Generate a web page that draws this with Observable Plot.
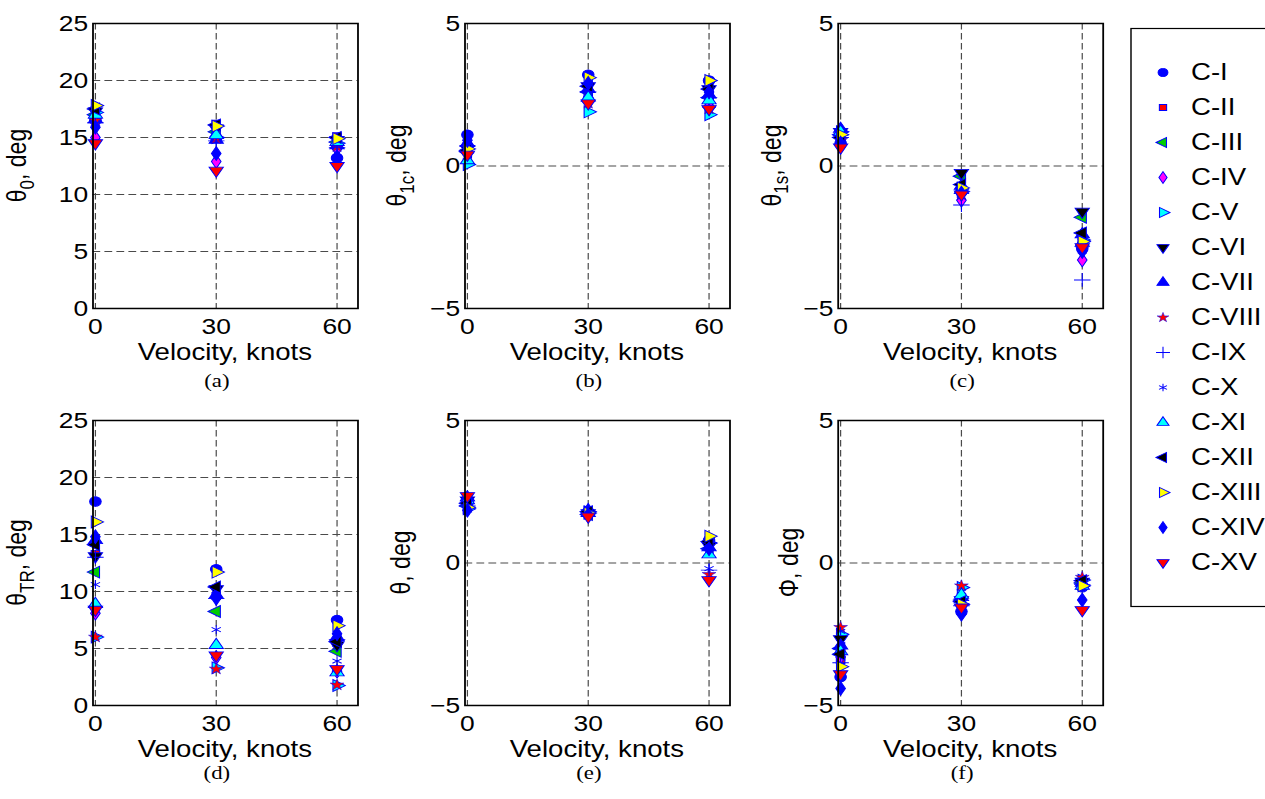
<!DOCTYPE html>
<html><head><meta charset="utf-8">
<script src="https://cdn.jsdelivr.net/npm/d3@7"></script>
<script src="https://cdn.jsdelivr.net/npm/@observablehq/plot@0.6"></script>
<style>
html,body{margin:0;padding:0;background:#fff;overflow:hidden;width:1265px;height:799px}
#fig{position:absolute;left:0;top:0;width:1054px;height:799px;transform:scaleX(1.2);transform-origin:0 0;}
#fig > svg{position:absolute;overflow:visible}
</style></head><body><div id="fig"></div><script>
// ---------- data ----------
const velocity = [0, 30, 60];
const cases = ["C-I","C-II","C-III","C-IV","C-V","C-VI","C-VII","C-VIII","C-IX","C-X","C-XI","C-XII","C-XIII","C-XIV","C-XV"];
// each row: one case, values at 0, 30, 60 knots
const theta0 = [
  [16.5, 15.0, 13.2],[16.8, 16.2, 15.1],[17.0, 15.5, 14.6],[15.0, 12.9, 14.0],[17.2, 15.0, 14.5],
  [17.3, 15.8, 14.8],[16.6, 14.8, 14.3],[16.5, 14.9, 14.2],[16.3, 14.7, 14.1],[16.2, 15.0, 14.3],
  [17.0, 15.2, 14.6],[17.5, 16.1, 15.0],[17.8, 16.0, 14.9],[15.9, 13.6, 13.3],[14.5, 12.1, 12.5]];
const theta1c = [
  [1.1, 3.2, 3.0],[0.6, 2.5, 2.3],[0.5, 2.6, 2.4],[0.5, 2.4, 2.1],[0.05, 1.9, 1.8],
  [0.6, 2.8, 2.7],[0.8, 2.7, 2.5],[0.4, 2.2, 2.0],[0.7, 2.6, 2.4],[0.9, 2.5, 2.3],
  [0.2, 2.4, 2.3],[0.55, 2.8, 2.7],[0.6, 3.1, 3.0],[0.9, 2.9, 2.6],[0.4, 2.2, 2.0]];
const theta1s = [
  [0.8, -0.9, -2.9],[1.0, -0.8, -2.8],[1.1, -0.36, -1.8],[0.9, -1.2, -3.3],[1.2, -0.9, -2.6],
  [1.2, -0.24, -1.6],[1.3, -0.7, -2.4],[0.9, -1.0, -2.9],[1.0, -1.37, -4.0],[1.1, -1.1, -2.5],
  [1.2, -0.85, -2.7],[1.0, -0.65, -2.35],[1.1, -0.77, -2.65],[0.8, -0.95, -3.0],[0.65, -1.0, -2.85]];
const thetaTR = [
  [17.9, 11.95, 7.5],[13.3, 9.6, 5.5],[11.7, 8.25, 4.75],[8.1, 4.2, 3.0],[6.0, 3.3, 1.75],
  [13.1, 10.2, 5.3],[14.5, 9.7, 6.0],[6.0, 3.2, 1.8],[13.0, 9.4, 5.8],[10.6, 6.65, 3.9],
  [8.9, 5.3, 2.9],[14.1, 10.4, 5.6],[16.1, 11.7, 7.0],[14.8, 9.4, 6.3],[8.4, 4.4, 3.2]];
const thetaPitch = [
  [2.1, 1.8, 0.8],[2.2, 1.75, 0.6],[2.0, 1.7, 0.5],[2.0, 1.7, 0.7],[1.9, 1.8, 0.7],
  [2.2, 1.75, 0.6],[2.3, 1.85, 0.55],[2.1, 1.7, -0.4],[2.0, 1.8, -0.25],[2.1, 1.9, -0.2],
  [2.2, 1.75, 0.3],[2.1, 1.8, 0.75],[1.95, 1.75, 0.94],[1.85, 1.7, 0.5],[2.35, 1.63, -0.6]];
const phiRoll = [
  [-4.0, -1.7, -0.85],[-3.4, -1.4, -0.7],[-3.0, -1.3, -0.7],[-3.3, -1.2, -0.75],[-2.5, -0.86, -0.6],
  [-2.67, -1.3, -0.65],[-2.9, -1.2, -0.7],[-2.26, -0.8, -0.5],[-3.5, -1.5, -0.75],[-2.4, -1.0, -0.6],
  [-3.1, -1.12, -0.8],[-3.2, -1.36, -0.62],[-3.64, -1.45, -0.8],[-4.4, -1.8, -1.3],[-3.9, -1.56, -1.65]];
const ticks25 = [0, 5, 10, 15, 20, 25];
const ticks5 = [-5, 0, 5];

// ---------- marker styles ----------
function tri(angle) {
  const s3 = Math.sqrt(3), a = angle * Math.PI / 180, c = Math.cos(a), s = Math.sin(a);
  return {draw(ctx, size) {
    const y = -Math.sqrt(size / (s3 * 3));
    const pts = [[0, y * 2], [-s3 * y, -y], [s3 * y, -y]].map(([px, py]) => [px * c - py * s, px * s + py * c]);
    ctx.moveTo(pts[0][0], pts[0][1]); ctx.lineTo(pts[1][0], pts[1][1]); ctx.lineTo(pts[2][0], pts[2][1]); ctx.closePath();
  }};
}
const UP = tri(0), DOWN = tri(180), RIGHT = tri(90), LEFT = tri(-90);
const styles = [
  {symbol: "circle", fill: "#0000ff", r: 4.8, sw: 0.9},
  {symbol: "square", fill: "#ff0000", r: 4, sw: 0.9},
  {symbol: LEFT, fill: "#00cc00", r: 4.4, sw: 0.9},
  {symbol: "diamond", fill: "#ff00ff", r: 4.2, sw: 0.9},
  {symbol: RIGHT, fill: "#00ffff", r: 4.4, sw: 0.9},
  {symbol: DOWN, fill: "#000000", r: 4.4, sw: 0.9},
  {symbol: UP, fill: "#0000ff", r: 4.4, sw: 0.9},
  {symbol: "star", fill: "#ff0000", r: 3.6, sw: 0.5},
  {symbol: "plus", fill: "none", r: 4.5, sw: 0.9},
  {symbol: "asterisk", fill: "none", r: 4.2, sw: 0.9},
  {symbol: UP, fill: "#00ffff", r: 4.4, sw: 0.9},
  {symbol: LEFT, fill: "#000000", r: 4.4, sw: 0.9},
  {symbol: RIGHT, fill: "#ffff00", r: 4.4, sw: 0.9},
  {symbol: "diamond", fill: "#0000ff", r: 4.2, sw: 0.9},
  {symbol: DOWN, fill: "#ff0000", r: 4.4, sw: 0.9}
];

// ---------- layout (actual px, page scaled by SX horizontally) ----------
const SX = 1.2;
const ML = 70, MR = 10, MT = 10, MB = 95;
const FW = 265 / SX, FH = 285;
const panels = [
  {values: theta0, domain: [0, 25], ticks: ticks25, main: "θ", sub: "0", fx: 92, fy: 23, lx: 26, cap: "(a)", capY: 79},
  {values: theta1c, domain: [-5, 5], ticks: ticks5, main: "θ", sub: "1c", fx: 464, fy: 23, lx: 406, cap: "(b)", capY: 79},
  {values: theta1s, domain: [-5, 5], ticks: ticks5, main: "θ", sub: "1s", fx: 837, fy: 23, lx: 780, cap: "(c)", capY: 79},
  {values: thetaTR, domain: [0, 25], ticks: ticks25, main: "θ", sub: "TR", fx: 92, fy: 420, lx: 26, cap: "(d)", capY: 74},
  {values: thetaPitch, domain: [-5, 5], ticks: ticks5, main: "θ", sub: null, fx: 464, fy: 420, lx: 410, cap: "(e)", capY: 74},
  {values: phiRoll, domain: [-5, 5], ticks: ticks5, main: "Φ", sub: null, fx: 837, fy: 420, lx: 797, cap: "(f)", capY: 74}
];
const fig = document.getElementById("fig");
const font = "'Liberation Sans', Arial, sans-serif";

for (const p of panels) {
  const dots = cases.map((name, i) => {
    const st = styles[i];
    const rows = velocity.map((v, j) => ({v, val: p.values[i][j]}));
    return Plot.dot(rows, {x: "v", y: "val", symbol: st.symbol, fill: st.fill, stroke: "#0000ff", strokeWidth: st.sw, r: st.r});
  });
  const grid = {stroke: "#4a4a4a", strokeOpacity: 1, strokeWidth: 1, strokeDasharray: "6.5,3.5"};
  const svg = Plot.plot({
    width: ML + FW + MR, height: MT + FH + MB,
    marginLeft: ML, marginRight: MR, marginTop: MT, marginBottom: MB,
    style: {fontFamily: font, fontSize: "22px", color: "black", background: "transparent"},
    x: {domain: [-0.6, 65.2], ticks: velocity, tickSize: 0, tickPadding: 10, label: null},
    y: {domain: p.domain, ticks: p.ticks, tickSize: 0, tickPadding: 4, label: null},
    marks: [
      Plot.ruleX(velocity, grid),
      Plot.ruleY(p.ticks.filter(t => t !== p.domain[0] && t !== p.domain[1]), grid),
      ...dots,
      Plot.frame({stroke: "black", strokeWidth: 1.5})
    ]
  });
  const left = p.fx / SX - ML, top = p.fy - MT;
  svg.style.left = left + "px"; svg.style.top = top + "px";
  const s = d3.select(svg);
  // y label
  const t = s.append("text")
    .attr("transform", `translate(${p.lx / SX - left},${MT + FH / 2}) rotate(-90)`)
    .attr("text-anchor", "middle").attr("font-size", 23).attr("font-family", font).attr("fill", "black");
  if (p.sub) {
    t.append("tspan").text(p.main);
    t.append("tspan").attr("font-size", 17).attr("dy", 6).text(p.sub);
    t.append("tspan").attr("dy", -6).text(", deg");
  } else {
    t.append("tspan").text(p.main + ", deg");
  }
  // x label
  s.append("text").attr("x", ML + FW / 2).attr("y", MT + FH + 52)
    .attr("text-anchor", "middle").attr("font-size", 23).attr("font-family", font).attr("fill", "black")
    .text("Velocity, knots");
  // caption
  s.append("text").attr("x", ML + FW / 2 - 8 / SX).attr("y", MT + FH + p.capY)
    .attr("text-anchor", "middle").attr("font-size", 19).attr("font-family", "'Liberation Serif', 'Times New Roman', serif").attr("fill", "black")
    .text(p.cap);
  fig.appendChild(svg);
}

// ---------- legend ----------
const LW = 140, LH = 578;
const legendMarks = [Plot.frame({stroke: "black", strokeWidth: 1.2})];
cases.forEach((name, i) => {
  const st = styles[i];
  legendMarks.push(Plot.dot([name], {x: () => (1162 - 1130) / SX, y: d => d, symbol: st.symbol, fill: st.fill, stroke: "#0000ff", strokeWidth: st.sw, r: st.r * 0.85}));
});
legendMarks.push(Plot.text(cases, {x: () => (1190 - 1130) / SX, y: d => d, text: d => d, textAnchor: "start", fontSize: 23, fill: "black"}));
const legend = Plot.plot({
  width: LW, height: LH, margin: 0,
  style: {fontFamily: font, background: "transparent"},
  x: {domain: [0, LW], range: [0, LW], axis: null},
  y: {type: "point", domain: cases, range: [20, 557], axis: null},
  marks: legendMarks
});
legend.style.left = (1130 / SX) + "px"; legend.style.top = "28px";
fig.appendChild(legend);
</script></body></html>
